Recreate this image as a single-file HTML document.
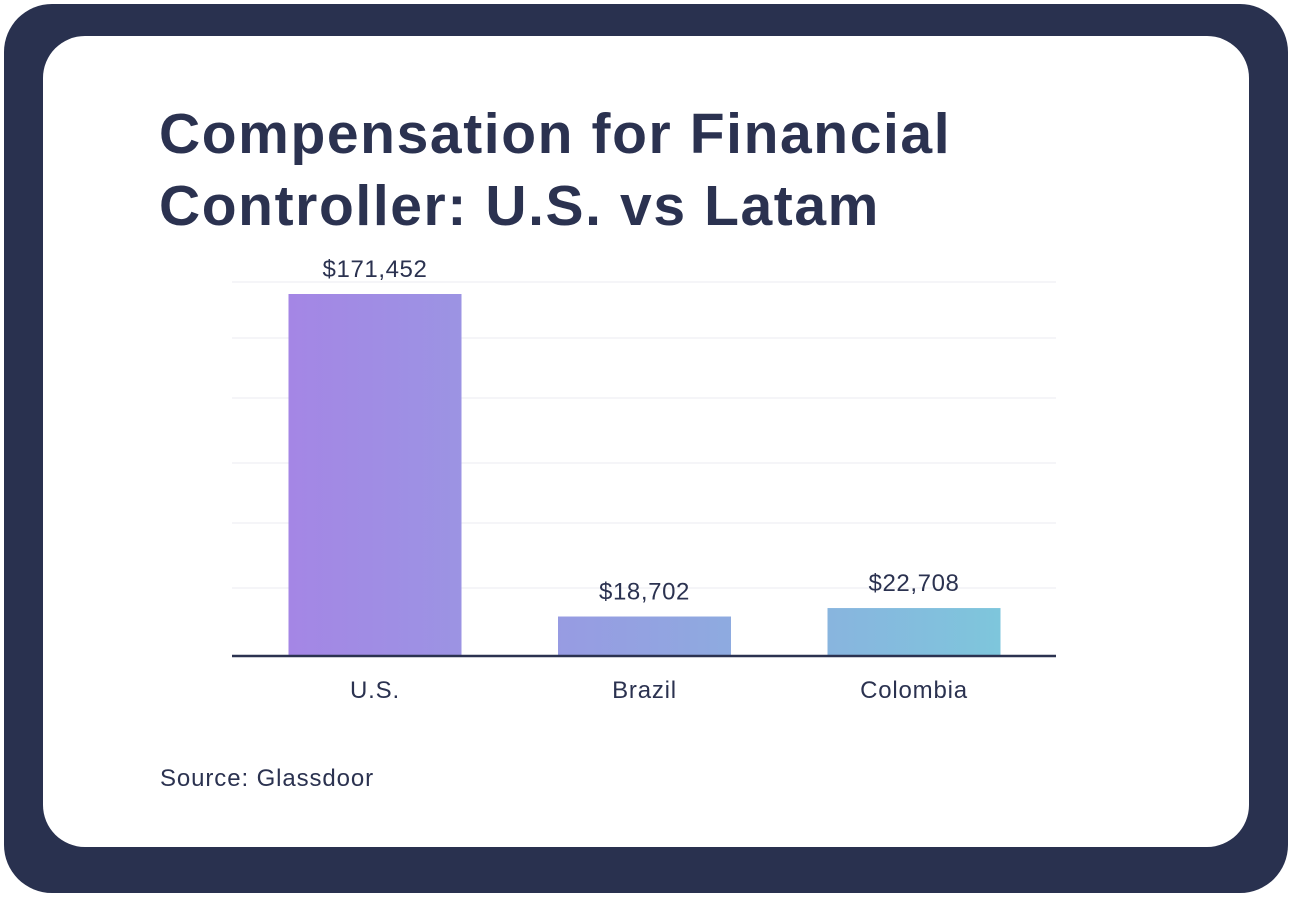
<!DOCTYPE html>
<html><head><meta charset="utf-8"><style>
html,body{margin:0;padding:0;width:1292px;height:897px;overflow:hidden;background:#fff;font-family:"Liberation Sans",sans-serif}
#frame{position:absolute;left:4px;top:4px;width:1284px;height:889px;background:#29314f;border-radius:48px}
#card{position:absolute;left:43px;top:36px;width:1206px;height:811px;background:#fff;border-radius:42px}
#title{position:absolute;left:159px;top:98px;margin:0;font-size:57px;line-height:72px;font-weight:bold;color:#2b3250;letter-spacing:1.6px}
#source{position:absolute;left:160px;top:765px;font-size:24px;color:#2b3250;letter-spacing:0.9px}
svg{position:absolute;left:0;top:0}
</style></head><body>
<div id="frame"></div>
<div id="card"></div>
<h1 id="title">Compensation for Financial<br>Controller: U.S. vs Latam</h1>
<div id="source">Source: Glassdoor</div>
<svg id="chart" width="1292" height="897">
<defs><linearGradient id="g" gradientUnits="userSpaceOnUse" x1="289" y1="0" x2="1000" y2="0">
<stop offset="0" stop-color="#a486e5"/><stop offset="0.5" stop-color="#93a2e1"/><stop offset="1" stop-color="#7ec6dc"/></linearGradient></defs>
<g id="grid" stroke="#ebebf0" stroke-width="1">
<line x1="232" x2="1056" y1="282" y2="282"/><line x1="232" x2="1056" y1="338" y2="338"/>
<line x1="232" x2="1056" y1="398" y2="398"/><line x1="232" x2="1056" y1="463" y2="463"/>
<line x1="232" x2="1056" y1="523" y2="523"/><line x1="232" x2="1056" y1="588" y2="588"/>
</g>
<g id="bars"></g>
<line x1="232" x2="1056" y1="656" y2="656" stroke="#2b3250" stroke-width="2.5"/>
</svg>
<script>
const categories = ["U.S.", "Brazil", "Colombia"];
const values = [171452, 18702, 22708];
const valueLabels = ["$171,452", "$18,702", "$22,708"];
const NS = "http://www.w3.org/2000/svg";
const baseY = 656, topY = 294, maxV = 171452;
function yScale(v){ return baseY - v / maxV * (baseY - topY); }
const barW = 173;
function xCenter(i){ return 375 + 269.5 * i; }
const g = document.getElementById('bars');
categories.forEach((c, i) => {
  const cx = xCenter(i), y = yScale(values[i]);
  const r = document.createElementNS(NS, 'rect');
  r.setAttribute('x', cx - barW/2); r.setAttribute('y', y);
  r.setAttribute('width', barW); r.setAttribute('height', baseY - y);
  r.setAttribute('fill', 'url(#g)');
  
  
  g.appendChild(r);
  const t = document.createElementNS(NS, 'text');
  t.setAttribute('x', cx); t.setAttribute('y', y - 17);
  t.setAttribute('text-anchor', 'middle'); t.setAttribute('font-size', '24');
  t.setAttribute('letter-spacing', '0.6');
  t.setAttribute('fill', '#2b3250'); t.textContent = valueLabels[i];
  
  
  g.appendChild(t);
  const l = document.createElementNS(NS, 'text');
  l.setAttribute('x', cx); l.setAttribute('y', 698);
  l.setAttribute('text-anchor', 'middle'); l.setAttribute('font-size', '24');
  l.setAttribute('letter-spacing', '0.8');
  l.setAttribute('fill', '#2b3250'); l.textContent = c;
  
  
  g.appendChild(l);
});
</script>
</body></html>
